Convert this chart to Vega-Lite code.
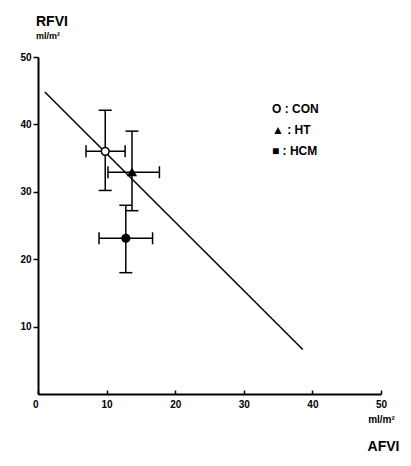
{
  "$schema": "https://vega.github.io/schema/vega-lite/v6.json",
  "width": 343,
  "height": 337,
  "autosize": {"type": "none"},
  "padding": {"left": 38, "top": 57, "right": 30, "bottom": 72},
  "background": "white",
  "config": {
    "view": {"stroke": null},
    "font": "Liberation Sans",
    "axis": {"grid": false, "domainColor": "black", "tickColor": "black", "labelColor": "black", "domainWidth": 2, "tickWidth": 1.5,
      "labelFont": "Liberation Sans", "labelFontWeight": "bold", "labelFontSize": 10}
  },
  "title": {
    "text": "RFVI",
    "subtitle": "ml/m²",
    "anchor": "start",
    "frame": "group",
    "align": "left",
    "dx": -2,
    "offset": 11,
    "fontSize": 14,
    "fontWeight": "bold",
    "color": "black",
    "subtitleFontSize": 9,
    "subtitleFontWeight": "bold",
    "subtitleColor": "black",
    "subtitlePadding": 3
  },
  "datasets": {
    "groups": [
      {"group": "CON", "x": 9.8, "y": 36.0, "xlo": 7.0, "xhi": 12.7, "ylo": 30.2, "yhi": 42.1},
      {"group": "HT", "x": 13.7, "y": 32.9, "xlo": 10.2, "xhi": 17.7, "ylo": 27.2, "yhi": 39.0},
      {"group": "HCM", "x": 12.8, "y": 23.1, "xlo": 8.9, "xhi": 16.7, "ylo": 18.0, "yhi": 28.0}
    ],
    "fit": [
      {"x": 1.0, "y": 44.8},
      {"x": 38.6, "y": 6.6}
    ]
  },
  "layer": [
    {
      "data": {"name": "fit"},
      "mark": {"type": "line", "color": "black", "strokeWidth": 1.5},
      "encoding": {
        "x": {"field": "x", "type": "quantitative", "scale": {"domain": [0, 50], "nice": false, "zero": false},
          "axis": {"values": [0, 10, 20, 30, 40, 50], "tickSize": -4, "labelPadding": 9, "labelBaseline": "top",
            "labelFontWeight": "bold",
            "labelAlign": {"condition": {"test": "datum.value == 0", "value": "right"}, "value": "center"},
            "labelExpr": "datum.value == 50 ? ['50', 'ml/m²'] : datum.label", "labelLineHeight": 15,
            "title": "AFVI", "titleFontSize": 14, "titleFontWeight": "bold", "titleColor": "black",
            "titleX": 345, "titleY": 56, "titleAlign": "center", "titleBaseline": "alphabetic"}},
        "y": {"field": "y", "type": "quantitative", "scale": {"domain": [0, 50], "nice": false, "zero": false},
          "axis": {"values": [10, 20, 30, 40, 50], "tickSize": 5, "labelPadding": 2, "title": null, "labelFontWeight": "bold"}}
      }
    },
    {
      "data": {"name": "groups"},
      "mark": {"type": "rule", "color": "black", "strokeWidth": 1.5},
      "encoding": {"x": {"field": "x", "type": "quantitative"}, "y": {"field": "ylo", "type": "quantitative"}, "y2": {"field": "yhi"}}
    },
    {
      "data": {"name": "groups"},
      "mark": {"type": "rule", "color": "black", "strokeWidth": 1.5},
      "encoding": {"y": {"field": "y", "type": "quantitative"}, "x": {"field": "xlo", "type": "quantitative"}, "x2": {"field": "xhi"}}
    },
    {
      "data": {"name": "groups"},
      "mark": {"type": "tick", "orient": "horizontal", "color": "black", "size": 13, "thickness": 1.5, "opacity": 1},
      "encoding": {"x": {"field": "x", "type": "quantitative"}, "y": {"field": "ylo", "type": "quantitative"}}
    },
    {
      "data": {"name": "groups"},
      "mark": {"type": "tick", "orient": "horizontal", "color": "black", "size": 13, "thickness": 1.5, "opacity": 1},
      "encoding": {"x": {"field": "x", "type": "quantitative"}, "y": {"field": "yhi", "type": "quantitative"}}
    },
    {
      "data": {"name": "groups"},
      "mark": {"type": "tick", "orient": "vertical", "color": "black", "size": 12, "thickness": 1.5, "opacity": 1},
      "encoding": {"x": {"field": "xlo", "type": "quantitative"}, "y": {"field": "y", "type": "quantitative"}}
    },
    {
      "data": {"name": "groups"},
      "mark": {"type": "tick", "orient": "vertical", "color": "black", "size": 12, "thickness": 1.5, "opacity": 1},
      "encoding": {"x": {"field": "xhi", "type": "quantitative"}, "y": {"field": "y", "type": "quantitative"}}
    },
    {
      "data": {"name": "groups"},
      "mark": {"type": "point", "filled": true, "size": 60, "stroke": "black", "strokeWidth": 1.5, "opacity": 1},
      "encoding": {
        "x": {"field": "x", "type": "quantitative"},
        "y": {"field": "y", "type": "quantitative"},
        "shape": {"field": "group", "type": "nominal",
          "scale": {"domain": ["CON", "HT", "HCM"], "range": ["circle", "triangle-up", "circle"]},
          "legend": {"orient": "none", "legendX": 222, "legendY": 46, "title": null,
            "symbolOpacity": 0, "symbolSize": 0, "symbolStrokeWidth": 0, "labelOffset": 0,
            "labelFont": "Liberation Sans", "labelFontSize": 12, "labelFontWeight": "bold", "labelColor": "black", "rowPadding": 9,
            "labelExpr": "datum.label == 'CON' ? 'O : CON' : datum.label == 'HT' ? '▲ : HT' : '■ : HCM'"}},
        "fill": {"field": "group", "type": "nominal",
          "scale": {"domain": ["CON", "HT", "HCM"], "range": ["white", "black", "black"]}, "legend": null}
      }
    }
  ]
}
